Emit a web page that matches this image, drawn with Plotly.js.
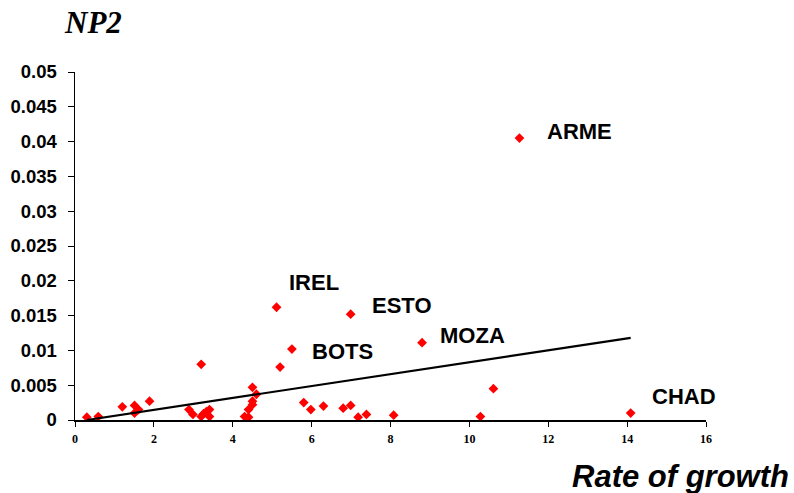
<!DOCTYPE html>
<html>
<head>
<meta charset="utf-8">
<script src="https://cdn.plot.ly/plotly-3.0.1.min.js"></script>
<style>html,body{margin:0;padding:0;background:#fff;}#chart{width:794px;height:493px;}</style>
</head>
<body>
<div id="chart"></div>
<script>
// Rate of growth (x) and NP2 (y) for each country
const growth = [0.30, 0.59, 1.20, 1.51, 1.51, 1.61, 1.89, 3.20, 2.89, 2.99, 3.20, 3.26, 3.33, 3.41, 3.41,
  4.30, 4.40, 4.40, 4.50, 4.50, 4.50, 4.60, 5.20, 5.11, 5.50, 5.80, 5.98, 6.30, 6.80, 6.99, 6.99,
  7.18, 7.39, 8.08, 8.80, 10.28, 10.61, 11.27, 14.09];
const np2 = [0.0004, 0.0005, 0.0019, 0.0021, 0.0010, 0.0015, 0.0027, 0.0080, 0.0015, 0.0008, 0.0005, 0.0009, 0.0012, 0.0015, 0.0005,
  0.0005, 0.0004, 0.0015, 0.0022, 0.0027, 0.0047, 0.0037, 0.0076, 0.0162, 0.0102, 0.0025, 0.0015, 0.0020, 0.0017, 0.0021, 0.0152,
  0.0004, 0.0008, 0.0007, 0.0111, 0.0005, 0.0045, 0.0405, 0.0010];

// Linear trend line endpoints
const trendX = [0.30, 14.09];
const trendY = [0.0000, 0.0118];

// Labelled countries
const labelNames = ['ARME', 'IREL', 'ESTO', 'BOTS', 'MOZA', 'CHAD'];
const labelX = [12.79, 6.05, 8.30, 6.79, 10.08, 15.45];
const labelY = [0.0414, 0.0198, 0.0165, 0.0099, 0.0121, 0.0034];

const xTicks = [0, 2, 4, 6, 8, 10, 12, 14, 16];
const yTicks = [0, 0.005, 0.01, 0.015, 0.02, 0.025, 0.03, 0.035, 0.04, 0.045, 0.05];
const yTickText = ['0', '0.005', '0.01', '0.015', '0.02', '0.025', '0.03', '0.035', '0.04', '0.045', '0.05'];

const traces = [
  {
    x: growth, y: np2, type: 'scatter', mode: 'markers',
    marker: {symbol: 'diamond', size: 7.5, color: '#ff0000', line: {width: 0}},
    hoverinfo: 'x+y', cliponaxis: false
  },
  {
    x: trendX, y: trendY, type: 'scatter', mode: 'lines',
    line: {color: '#000000', width: 2.2}, hoverinfo: 'skip'
  }
];

const annotations = labelNames.map((n, i) => ({
  x: labelX[i], y: labelY[i], xref: 'x', yref: 'y', text: n, showarrow: false,
  xanchor: 'center', yanchor: 'middle',
  font: {family: 'Liberation Sans, Arial, sans-serif', size: 22, color: '#000', weight: 'bold'}
}));
annotations.push({
  xref: 'paper', yref: 'paper', x: 1.135, y: -0.161, xanchor: 'right', yanchor: 'middle',
  text: '<b><i>Rate of growth</i></b>', showarrow: false,
  font: {family: 'Liberation Sans, Arial, sans-serif', size: 31, color: '#000'}
});

const layout = {
  width: 794, height: 493,
  margin: {l: 75, r: 88, t: 72, b: 73},
  paper_bgcolor: '#ffffff', plot_bgcolor: '#ffffff',
  showlegend: false,
  title: {
    text: '<b><i>NP2</i></b>', xref: 'container', yref: 'container',
    x: 65 / 794, xanchor: 'left', y: 1 - 22 / 493, yanchor: 'middle',
    font: {family: 'Liberation Serif, Times New Roman, serif', size: 31, color: '#000'}
  },
  xaxis: {
    range: [0, 16], tickmode: 'array', tickvals: xTicks, ticktext: xTicks.map(String),
    showgrid: false, zeroline: false, showline: true, linecolor: '#000', linewidth: 1.5,
    ticks: 'outside', ticklen: 5, tickwidth: 1, tickcolor: '#000', ticklabelstandoff: 2,
    tickfont: {family: 'Liberation Serif, Times New Roman, serif', size: 12, color: '#000', weight: 'bold'}
  },
  yaxis: {
    range: [0, 0.05], tickmode: 'array', tickvals: yTicks, ticktext: yTickText,
    showgrid: false, zeroline: false, showline: true, linecolor: '#000', linewidth: 1.5,
    ticks: 'outside', ticklen: 6, tickwidth: 1, tickcolor: '#000', ticklabelstandoff: 7,
    tickfont: {family: 'Liberation Sans, Arial, sans-serif', size: 18.5, color: '#000', weight: 'bold'}
  },
  annotations: annotations
};

Plotly.newPlot('chart', traces, layout, {displayModeBar: false, staticPlot: true});
</script>
</body>
</html>
